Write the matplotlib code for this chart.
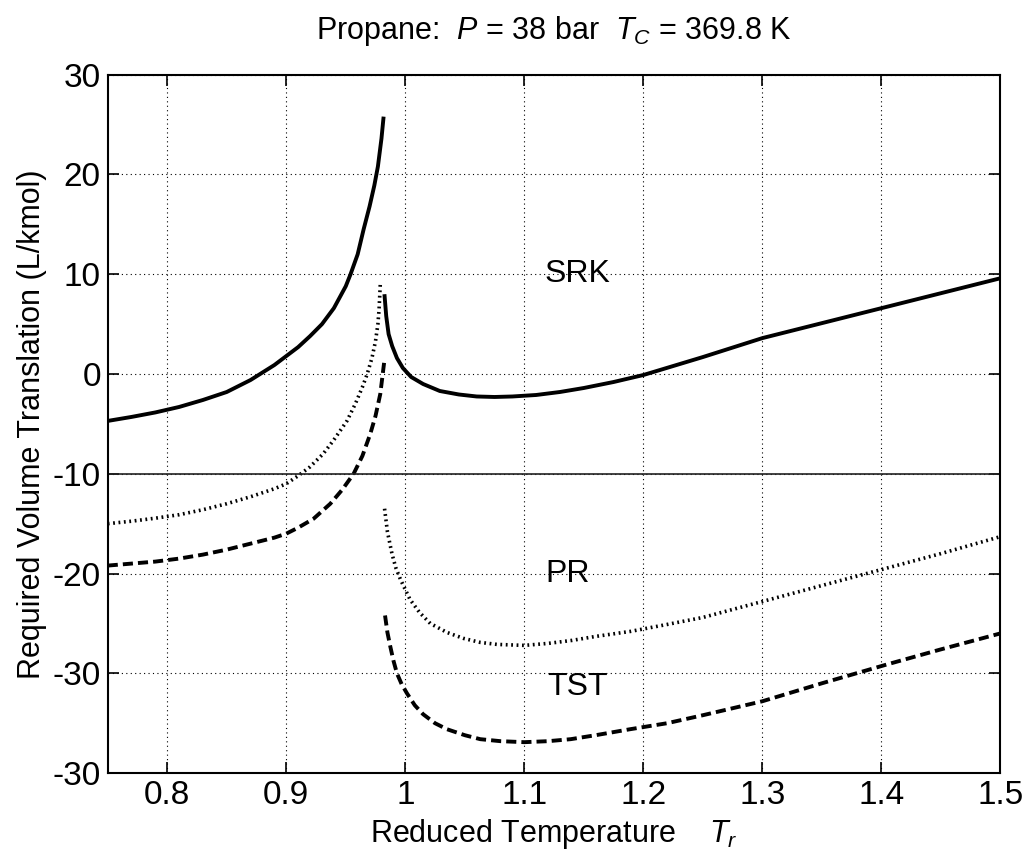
import numpy as np
import matplotlib
matplotlib.use('Agg')
from matplotlib import pyplot as plt

plt.rcParams['font.family'] = ['Liberation Sans', 'DejaVu Sans']
plt.rcParams['mathtext.fontset'] = 'custom'
plt.rcParams['mathtext.rm'] = 'Liberation Sans'
plt.rcParams['mathtext.it'] = 'Liberation Sans:italic'

# values (Tr, volume translation L/kmol)
srk_liq_tr = [0.75, 0.77, 0.79, 0.81, 0.83, 0.85, 0.87, 0.89, 0.90, 0.91, 0.92, 0.93, 0.94,
              0.95, 0.954, 0.96, 0.965, 0.97, 0.974, 0.977, 0.98, 0.9818]
srk_liq_v = [-4.7, -4.3, -3.85, -3.3, -2.6, -1.8, -0.6, 0.9, 1.8, 2.7, 3.8, 5.0, 6.6,
             8.8, 10.0, 12.0, 14.5, 16.8, 18.9, 20.8, 23.6, 25.8]
srk_vap_tr = [0.9825, 0.984, 0.986, 0.989, 0.993, 0.998, 1.005, 1.015, 1.029, 1.045, 1.06, 1.075,
              1.09, 1.11, 1.13, 1.15, 1.175, 1.2, 1.25, 1.3, 1.35, 1.4, 1.45, 1.5]
srk_vap_v = [8.0, 5.8, 4.0, 2.8, 1.6, 0.6, -0.3, -1.0, -1.7, -2.05, -2.25, -2.3,
             -2.25, -2.1, -1.8, -1.4, -0.8, -0.1, 1.7, 3.6, 5.1, 6.6, 8.1, 9.6]

pr_liq_tr = [0.75, 0.77, 0.79, 0.81, 0.83, 0.85, 0.87, 0.89, 0.90, 0.91, 0.92, 0.931, 0.94,
             0.951, 0.958, 0.964, 0.968, 0.972, 0.975, 0.977, 0.978, 0.979]
pr_liq_v = [-15.0, -14.75, -14.45, -14.1, -13.6, -13.0, -12.3, -11.5, -11.0, -10.2, -9.3, -8.0, -6.6,
            -4.7, -3.0, -1.3, 0.0, 1.6, 3.3, 5.0, 6.5, 9.0]
pr_vap_tr = [0.9826, 0.985, 0.9888, 0.992, 0.996, 1.004, 1.012, 1.021, 1.035, 1.049, 1.063, 1.077,
             1.1, 1.12, 1.14, 1.16, 1.189, 1.22, 1.25, 1.3, 1.35, 1.4, 1.45, 1.5]
pr_vap_v = [-13.5, -15.8, -18.0, -19.4, -20.6, -22.6, -23.9, -25.0, -25.9, -26.5, -26.9, -27.1,
            -27.2, -27.0, -26.7, -26.3, -25.8, -25.1, -24.4, -22.8, -21.2, -19.6, -18.0, -16.3]

tst_liq_tr = [0.75, 0.77, 0.79, 0.81, 0.83, 0.85, 0.87, 0.89, 0.90, 0.91, 0.923, 0.937, 0.947,
              0.9566, 0.964, 0.9706, 0.975, 0.979, 0.9826]
tst_liq_v = [-19.2, -19.0, -18.8, -18.5, -18.1, -17.6, -17.0, -16.4, -16.0, -15.4, -14.5, -13.0, -11.6,
             -10.0, -8.2, -6.0, -4.2, -2.0, 1.5]
tst_vap_tr = [0.983, 0.985, 0.9874, 0.99, 0.993, 0.997, 1.0014, 1.008, 1.015, 1.025, 1.035, 1.05, 1.063,
              1.08, 1.1, 1.12, 1.139, 1.16, 1.189, 1.22, 1.25, 1.3, 1.35, 1.405, 1.45, 1.5]
tst_vap_v = [-24.2, -25.9, -27.3, -28.7, -30.0, -31.1, -32.0, -33.2, -34.1, -35.0, -35.6, -36.2, -36.6,
             -36.8, -36.9, -36.8, -36.6, -36.2, -35.6, -35.0, -34.2, -32.8, -31.0, -29.1, -27.6, -26.0]

xticks = [0.8, 0.9, 1.0, 1.1, 1.2, 1.3, 1.4, 1.5]
xtick_labels = ['0.8', '0.9', '1', '1.1', '1.2', '1.3', '1.4', '1.5']
yticks = [30, 20, 10, 0, -10, -20, -30, -40]
ytick_labels = ['30', '20', '10', '0', '-10', '-20', '-30', '-30']

fig = plt.figure(figsize=(10.26, 8.59), dpi=100)
ax = fig.add_axes([0.105, 0.100, 0.870, 0.813])

solid = dict(color='k', lw=2.8, solid_capstyle='butt')
dotted = dict(color='k', lw=2.6, linestyle=(0, (0.5, 1.0)))
dashed = dict(color='k', lw=2.8, linestyle=(0, (2.6, 1.3)))

ax.plot(srk_liq_tr, srk_liq_v, **solid)
ax.plot(srk_vap_tr, srk_vap_v, **solid)
ax.plot(pr_liq_tr, pr_liq_v, **dotted)
ax.plot(pr_vap_tr, pr_vap_v, **dotted)
ax.plot(tst_liq_tr, tst_liq_v, **dashed)
ax.plot(tst_vap_tr, tst_vap_v, **dashed)

ax.axhline(-10, color='#222222', lw=1.2)

ax.text(1.117, 10, 'SRK', fontsize=23, va='center', ha='left')
ax.text(1.118, -20, 'PR', fontsize=23, va='center', ha='left')
ax.text(1.119, -31.4, 'TST', fontsize=23, va='center', ha='left')

ax.set_xlim(0.75, 1.5)
ax.set_ylim(-40, 30)
ax.set_xticks(xticks)
ax.set_xticklabels(xtick_labels)
ax.set_yticks(yticks)
ax.set_yticklabels(ytick_labels)
ax.grid(True, color='k', lw=0.8, linestyle=(0, (1, 3)))
ax.tick_params(direction='in', length=8, width=1.2, top=True, right=True,
               labelsize=24, pad=5)
for s in ax.spines.values():
    s.set_linewidth(1.5)

ax.set_xlabel('Reduced Temperature    $T_r$', fontsize=22, labelpad=4)
ax.set_ylabel('Required Volume Translation (L/kmol)', fontsize=22, labelpad=4)
ax.set_title('Propane:  $P$ = 38 bar  $T_C$ = 369.8 K', fontsize=22, pad=26)

fig.savefig('out.png', dpi=100)
